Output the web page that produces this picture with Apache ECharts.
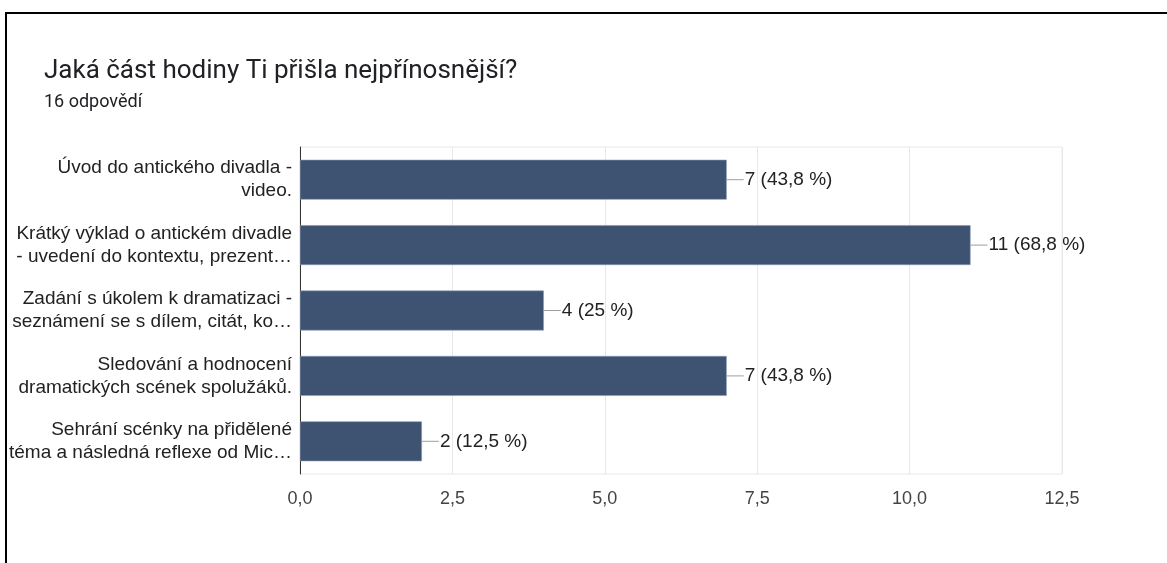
<!DOCTYPE html>
<html>
<head>
<meta charset="utf-8">
<style>
  html, body { margin: 0; padding: 0; background: #fff; }
  #chart { width: 1167px; height: 563px; }
</style>
<script src="https://cdn.jsdelivr.net/npm/echarts@6/dist/echarts.min.js"></script>
</head>
<body>
<div id="chart"></div>
<script>
// Survey answers: which part of the lesson was most beneficial
const titleText = 'Jaká část hodiny Ti přišla nejpřínosnější?';
const subtitleText = '16 odpovědí';
const totalResponses = 16;

const categories = [
  'Úvod do antického divadla -\nvideo.',
  'Krátký výklad o antickém divadle\n- uvedení do kontextu, prezent…',
  'Zadání s úkolem k dramatizaci -\nseznámení se s dílem, citát, ko…',
  'Sledování a hodnocení\ndramatických scének spolužáků.',
  'Sehrání scénky na přidělené\ntéma a následná reflexe od Mic…'
];
const counts = [7, 11, 4, 7, 2];

const axisMin = 0;
const axisMax = 12.5;
const axisStep = 2.5;

function czNumber(v, digits) {
  return v.toFixed(digits).replace('.', ',');
}
function percentText(v) {
  const p = Math.round(v / totalResponses * 1000) / 10;
  return (Number.isInteger(p) ? String(p) : czNumber(p, 1)) + ' %';
}

const chart = echarts.init(document.getElementById('chart'));
chart.setOption({
  animation: false,
  backgroundColor: '#fff',
  title: [
    {
      text: titleText,
      left: 44, top: 58, padding: 0,
      textStyle: { fontFamily: 'Roboto', fontSize: 26, fontWeight: 'normal', color: '#202124' }
    },
    {
      text: subtitleText,
      left: 44, top: 93, padding: 0,
      textStyle: { fontFamily: 'Roboto', fontSize: 18, fontWeight: 'normal', color: '#202124' }
    }
  ],
  graphic: [
    { type: 'line', shape: { x1: 5, y1: 13, x2: 1167, y2: 13 }, style: { stroke: '#000', lineWidth: 2 } },
    { type: 'line', shape: { x1: 6, y1: 12, x2: 6, y2: 563 }, style: { stroke: '#000', lineWidth: 2 } }
  ],
  grid: {
    left: 300, right: 105, top: 147, bottom: 89,
    show: true, borderColor: '#e8e8e8', borderWidth: 1
  },
  xAxis: {
    type: 'value',
    min: axisMin, max: axisMax, interval: axisStep,
    axisLine: { show: false },
    axisTick: { show: false },
    splitLine: { show: true, lineStyle: { color: '#e8e8e8', width: 1 } },
    axisLabel: {
      margin: 16,
      fontFamily: 'Liberation Sans', fontSize: 18, color: '#444',
      formatter: v => czNumber(v, 1)
    }
  },
  yAxis: {
    type: 'category',
    inverse: true,
    data: categories,
    axisLine: { show: true, lineStyle: { color: '#333', width: 1 } },
    axisTick: { show: false },
    splitLine: { show: false },
    axisLabel: {
      margin: 8,
      fontFamily: 'Liberation Sans', fontSize: 19, color: '#222',
      lineHeight: 23, align: 'right'
    }
  },
  series: [{
    type: 'bar',
    data: counts,
    barWidth: '61%',
    itemStyle: { color: '#3e5272', borderColor: '#8a9ab3', borderWidth: 0.6 },
    label: {
      show: true,
      position: 'right',
      distance: 0,
      formatter: p => '{ln|}{t|' + p.value + ' (' + percentText(p.value) + ')}',
      rich: {
        ln: { width: 17, height: 1, backgroundColor: '#9e9e9e' },
        t: { fontFamily: 'Liberation Sans', fontSize: 19, color: '#222', padding: [0, 0, 0, 1] }
      }
    }
  }]
});
</script>
</body>
</html>
